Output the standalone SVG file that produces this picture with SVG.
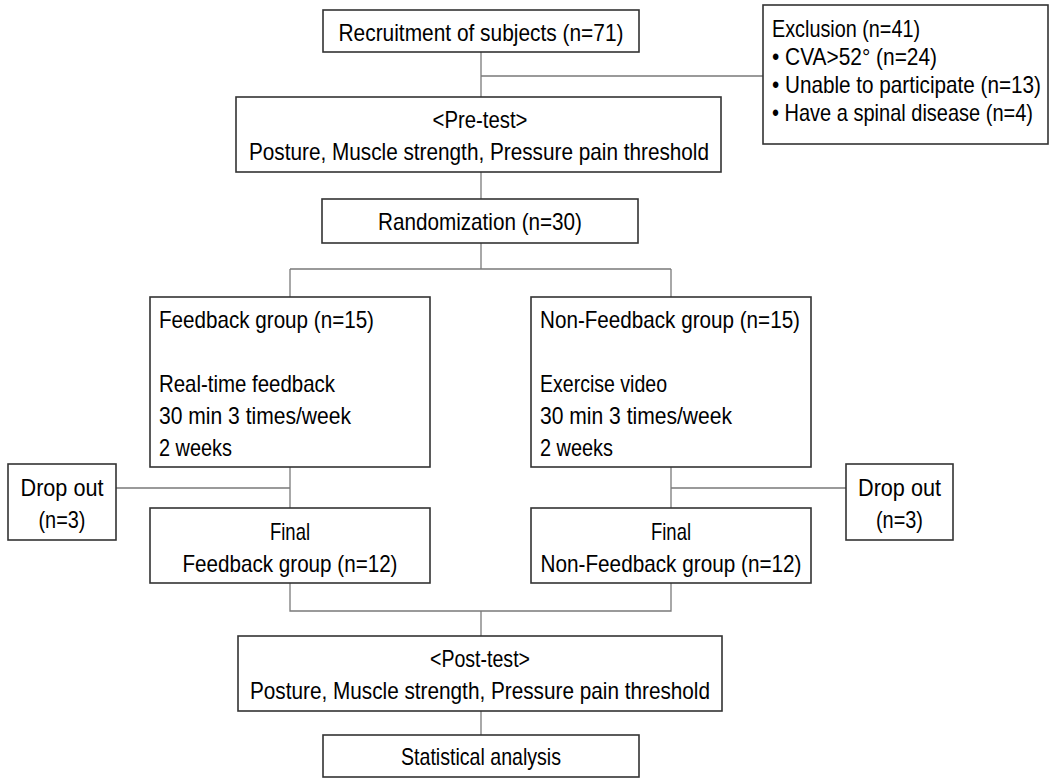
<svg xmlns="http://www.w3.org/2000/svg" width="1051" height="779" viewBox="0 0 1051 779">
<style>
.box{fill:#fff;stroke:#333;stroke-width:1.6}
.t{font-family:"Liberation Sans",Arial,sans-serif;font-size:24px;fill:#000}
.c{text-anchor:middle}
.conn{fill:none;stroke:#7a7a7a;stroke-width:1.3}
</style>
<rect width="1051" height="779" fill="#fff"/>
<g id="connectors">
<path class="conn" d="M481 52V97M481 76H763"/>
<path class="conn" d="M481 172V199"/>
<path class="conn" d="M481 243V269M290 269H671M290 269V297M671 269V297"/>
<path class="conn" d="M290 467V508M116 488H290"/>
<path class="conn" d="M671 467V508M671 488H846"/>
<path class="conn" d="M290 583V611H671V583M481 611V636"/>
<path class="conn" d="M481 711V735"/>
</g>
<g id="recruitment">
<rect class="box" x="323" y="10" width="316" height="42"/>
<text class="t c" x="481" y="41" textLength="285" lengthAdjust="spacingAndGlyphs">Recruitment of subjects (n=71)</text>
</g>
<g id="exclusion">
<rect class="box" x="763" y="5" width="285" height="139"/>
<text class="t" x="772" y="37" textLength="148" lengthAdjust="spacingAndGlyphs">Exclusion (n=41)</text>
<text class="t" x="772" y="65" textLength="165" lengthAdjust="spacingAndGlyphs">• CVA&gt;52° (n=24)</text>
<text class="t" x="772" y="93" textLength="269" lengthAdjust="spacingAndGlyphs">• Unable to participate (n=13)</text>
<text class="t" x="772" y="121" textLength="261" lengthAdjust="spacingAndGlyphs">• Have a spinal disease (n=4)</text>
</g>
<g id="pretest">
<rect class="box" x="236" y="97" width="485" height="75"/>
<text class="t c" x="480" y="128" textLength="95" lengthAdjust="spacingAndGlyphs">&lt;Pre-test&gt;</text>
<text class="t c" x="479" y="160" textLength="460" lengthAdjust="spacingAndGlyphs">Posture, Muscle strength, Pressure pain threshold</text>
</g>
<g id="randomization">
<rect class="box" x="322" y="199" width="316" height="44"/>
<text class="t c" x="480" y="230" textLength="204" lengthAdjust="spacingAndGlyphs">Randomization (n=30)</text>
</g>
<g id="feedback">
<rect class="box" x="150" y="297" width="280" height="170"/>
<text class="t" x="159" y="328" textLength="215" lengthAdjust="spacingAndGlyphs">Feedback group (n=15)</text>
<text class="t" x="159" y="392" textLength="176" lengthAdjust="spacingAndGlyphs">Real-time feedback</text>
<text class="t" x="159" y="424" textLength="192" lengthAdjust="spacingAndGlyphs">30 min 3 times/week</text>
<text class="t" x="159" y="456" textLength="73" lengthAdjust="spacingAndGlyphs">2 weeks</text>
</g>
<g id="nonfeedback">
<rect class="box" x="531" y="297" width="280" height="170"/>
<text class="t" x="540" y="328" textLength="260" lengthAdjust="spacingAndGlyphs">Non-Feedback group (n=15)</text>
<text class="t" x="540" y="392" textLength="127" lengthAdjust="spacingAndGlyphs">Exercise video</text>
<text class="t" x="540" y="424" textLength="192" lengthAdjust="spacingAndGlyphs">30 min 3 times/week</text>
<text class="t" x="540" y="456" textLength="73" lengthAdjust="spacingAndGlyphs">2 weeks</text>
</g>
<g id="dropout-left">
<rect class="box" x="8" y="464" width="108" height="76"/>
<text class="t c" x="62" y="496" textLength="83" lengthAdjust="spacingAndGlyphs">Drop out</text>
<text class="t c" x="62" y="528" textLength="47" lengthAdjust="spacingAndGlyphs">(n=3)</text>
</g>
<g id="dropout-right">
<rect class="box" x="846" y="464" width="107" height="76"/>
<text class="t c" x="899.5" y="496" textLength="83" lengthAdjust="spacingAndGlyphs">Drop out</text>
<text class="t c" x="899.5" y="528" textLength="47" lengthAdjust="spacingAndGlyphs">(n=3)</text>
</g>
<g id="final-feedback">
<rect class="box" x="150" y="508" width="280" height="75"/>
<text class="t c" x="290" y="540" textLength="40" lengthAdjust="spacingAndGlyphs">Final</text>
<text class="t c" x="290" y="572" textLength="215" lengthAdjust="spacingAndGlyphs">Feedback group (n=12)</text>
</g>
<g id="final-nonfeedback">
<rect class="box" x="531" y="508" width="280" height="75"/>
<text class="t c" x="671" y="540" textLength="40" lengthAdjust="spacingAndGlyphs">Final</text>
<text class="t c" x="671" y="572" textLength="261" lengthAdjust="spacingAndGlyphs">Non-Feedback group (n=12)</text>
</g>
<g id="posttest">
<rect class="box" x="238" y="636" width="484" height="75"/>
<text class="t c" x="480" y="667" textLength="100" lengthAdjust="spacingAndGlyphs">&lt;Post-test&gt;</text>
<text class="t c" x="480" y="699" textLength="460" lengthAdjust="spacingAndGlyphs">Posture, Muscle strength, Pressure pain threshold</text>
</g>
<g id="statistical">
<rect class="box" x="323" y="735" width="316" height="42"/>
<text class="t c" x="481" y="765" textLength="160" lengthAdjust="spacingAndGlyphs">Statistical analysis</text>
</g>
</svg>
